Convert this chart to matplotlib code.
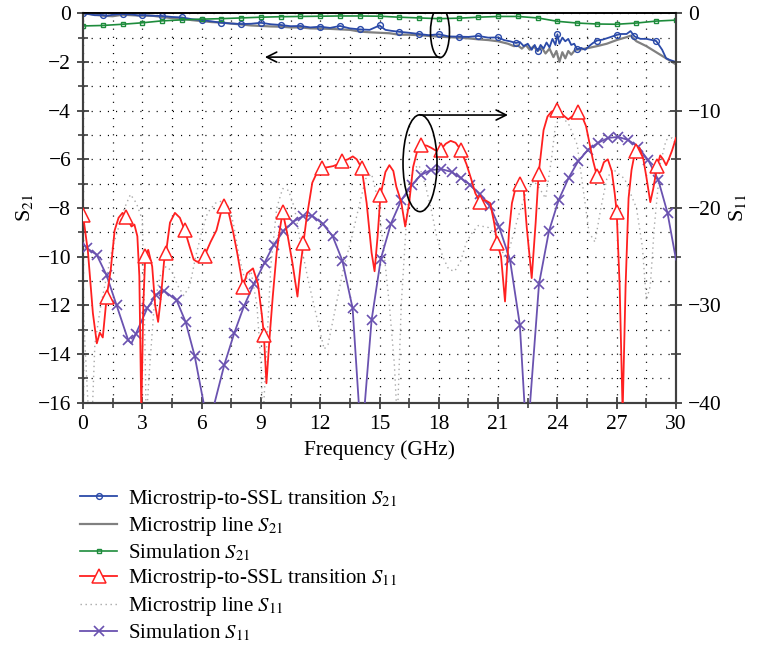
import numpy as np
import matplotlib
matplotlib.use('Agg')
import matplotlib.pyplot as plt
from matplotlib.patches import Ellipse
from matplotlib.ticker import MultipleLocator

plt.rcParams['font.family'] = ['Liberation Serif', 'DejaVu Serif']
plt.rcParams['mathtext.fontset'] = 'stix'

# ---- S21 (left axis, dB) ----
sim21_f = list(range(0, 31))
sim21 = [-0.52, -0.50, -0.45, -0.39, -0.31, -0.27, -0.24, -0.22, -0.19, -0.16,
         -0.14, -0.13, -0.12, -0.11, -0.11, -0.12, -0.16, -0.19, -0.22, -0.20,
         -0.16, -0.13, -0.13, -0.19, -0.33, -0.40, -0.44, -0.45, -0.40, -0.32, -0.28]

trans21_f = [0.0, 0.3, 0.6, 1.0, 1.2, 1.5, 1.8, 2.0, 2.5, 2.8, 3.0, 3.5, 4.0, 4.5, 5.0,
             5.5, 6.0, 6.5, 7.0, 7.5, 8.0, 8.5, 9.0, 9.5, 10.0, 10.5, 11.0, 11.5, 12.0,
             12.5, 13.0, 13.5, 14.0, 14.5, 15.0, 15.3, 15.6, 16.0, 16.5, 17.0, 17.5,
             18.0, 18.5, 19.0, 19.5, 20.0, 20.5, 21.0, 21.3, 21.6, 21.9, 22.1, 22.3,
             22.5, 22.7, 22.85, 23.0, 23.15, 23.3, 23.45, 23.6, 23.75, 23.9, 24.0,
             24.1, 24.25, 24.4, 24.55, 24.7, 24.85, 25.0, 25.2, 25.4, 25.6, 25.8,
             26.0, 26.3, 26.6, 27.0, 27.2, 27.5, 27.7, 27.9, 28.2, 28.5, 28.8, 29.0,
             29.3, 29.5, 29.7, 30.0]
trans21 = [0.0, -0.03, -0.08, -0.07, -0.1, -0.06, -0.04, -0.03, -0.05, -0.09, -0.07,
           -0.1, -0.11, -0.15, -0.17, -0.24, -0.28, -0.33, -0.39, -0.42, -0.44, -0.43,
           -0.39, -0.45, -0.48, -0.53, -0.52, -0.58, -0.55, -0.6, -0.52, -0.62, -0.66,
           -0.68, -0.50, -0.68, -0.72, -0.76, -0.80, -0.85, -0.90, -0.86, -0.95, -0.96,
           -0.97, -0.93, -1.0, -0.99, -1.10, -1.15, -1.22, -1.18, -1.35, -1.25, -1.5,
           -1.3, -1.55, -1.3, -1.45, -1.2, -1.4, -1.05, -1.3, -0.86, -1.25, -1.0, -1.15,
           -1.05, -1.3, -1.25, -1.48, -1.42, -1.5, -1.35, -1.22, -1.12, -1.08, -1.0,
           -0.89, -0.85, -0.85, -0.73, -0.95, -1.05, -1.05, -1.1, -1.14, -1.5, -1.85,
           -1.92, -2.0]
trans21_marks = list(range(0, 30))

line21_f = [0.0, 0.5, 1.0, 1.5, 2.0, 2.5, 3.0, 3.5, 4.0, 4.5, 5.0, 5.5, 6.0, 6.5, 7.0,
            7.5, 8.0, 8.5, 9.0, 9.5, 10.0, 10.5, 11.0, 11.5, 12.0, 12.5, 13.0, 13.5,
            14.0, 14.5, 15.0, 15.5, 16.0, 16.5, 17.0, 17.5, 18.0, 18.5, 19.0, 19.5,
            20.0, 20.5, 21.0, 21.5, 21.8, 22.0, 22.2, 22.4, 22.6, 22.8, 23.0, 23.2,
            23.4, 23.6, 23.8, 23.95, 24.1, 24.25, 24.4, 24.55, 24.7, 24.9, 25.2, 25.6,
            26.0, 26.5, 27.0, 27.5, 27.7, 28.0, 28.5, 29.0, 29.5, 30.0]
line21 = [0.0, -0.05, -0.1, -0.12, -0.06, -0.08, -0.1, -0.1, -0.15, -0.2, -0.22, -0.28,
          -0.32, -0.36, -0.38, -0.42, -0.46, -0.5, -0.52, -0.54, -0.55, -0.58, -0.58,
          -0.62, -0.63, -0.64, -0.66, -0.68, -0.75, -0.78, -0.8, -0.82, -0.88, -0.88,
          -0.9, -0.93, -0.96, -0.98, -1.0, -1.03, -1.07, -1.1, -1.15, -1.25, -1.35,
          -1.32, -1.45, -1.3, -1.5, -1.35, -1.55, -1.4, -1.65, -1.45, -1.8, -1.55,
          -2.0, -1.6, -1.85, -1.55, -1.7, -1.5, -1.48, -1.42, -1.35, -1.25, -1.1,
          -0.98, -0.92, -1.15, -1.35, -1.6, -1.85, -2.1]

# ---- S11 (right axis, dB) ----
trans11_f = [0.0, 0.25, 0.5, 0.7, 0.85, 1.0, 1.2, 1.4, 1.6, 1.8, 2.0, 2.2, 2.45, 2.6,
             2.75, 2.85, 2.95, 3.05, 3.15, 3.3, 3.5, 3.65, 3.8, 3.95, 4.1, 4.2, 4.4,
             4.65, 4.9, 5.15, 5.4, 5.6, 5.75, 5.9, 6.15, 6.45, 6.75, 7.0, 7.15, 7.35,
             7.6, 7.8, 8.1, 8.3, 8.6, 8.85, 9.05, 9.15, 9.28, 9.45, 9.6, 9.8, 9.95,
             10.1, 10.35, 10.6, 10.85, 11.0, 11.15, 11.3, 11.6, 11.85, 12.1, 12.4,
             12.65, 12.9, 13.1, 13.4, 13.65, 13.85, 14.1, 14.35, 14.6, 14.75, 14.9,
             15.05, 15.3, 15.5, 15.7, 15.85, 16.1, 16.3, 16.5, 16.7, 16.9, 17.1, 17.4,
             17.6, 17.85, 18.1, 18.35, 18.6, 18.85, 19.1, 19.4, 19.65, 19.85, 20.1,
             20.35, 20.6, 20.8, 20.95, 21.15, 21.35, 21.55, 21.7, 21.9, 22.1, 22.3,
             22.45, 22.7, 22.9, 23.05, 23.3, 23.5, 23.7, 24.0, 24.25, 24.55, 24.8,
             25.05, 25.25, 25.45, 25.8, 26.0, 26.2, 26.35, 26.55, 26.75, 26.9, 27.0,
             27.15, 27.3, 27.45, 27.6, 27.75, 27.9, 28.0, 28.15, 28.35, 28.5, 28.7,
             28.85, 29.05, 29.2, 29.35, 29.5, 29.65, 29.8, 30.0]
trans11 = [-20.7, -24.5, -30.8, -33.9, -32.8, -33.3, -29.1, -26.4, -22.3, -21.0, -20.5,
           -20.9, -21.9, -21.7, -22.9, -27.0, -41.0, -30.0, -24.9, -24.3, -26.0, -30.0,
           -31.7, -29.0, -25.5, -24.6, -21.5, -20.5, -21.0, -22.3, -24.0, -25.3, -25.5,
           -25.5, -24.9, -23.5, -22.3, -20.3, -19.8, -20.3, -22.5, -24.6, -28.1, -26.7,
           -26.2, -27.8, -31.0, -33.0, -38.0, -33.0, -29.1, -24.5, -22.3, -20.4, -22.8,
           -25.7, -29.1, -26.0, -23.6, -21.2, -17.4, -16.3, -15.9, -15.8, -15.7, -15.5,
           -15.2, -15.0, -14.7, -15.0, -15.9, -19.5, -24.6, -26.5, -23.0, -18.7, -16.3,
           -15.6, -16.2, -17.8, -19.4, -21.9, -19.5, -15.8, -14.2, -13.5, -13.6, -13.8,
           -14.1, -14.0, -13.4, -13.1, -13.3, -14.0, -15.5, -17.1, -18.5, -19.4, -19.2,
           -19.5, -21.5, -23.6, -25.0, -29.6, -22.5, -19.5, -17.8, -17.5, -18.2, -22.0,
           -27.2, -21.5, -16.5, -12.0, -10.6, -10.1, -9.9, -10.4, -10.9, -10.5, -10.1,
           -10.6, -11.6, -15.1, -16.7, -16.2, -15.3, -15.0, -16.2, -18.5, -20.4, -28.0,
           -41.0, -28.0, -19.0, -16.1, -14.5, -14.1, -13.8, -15.0, -16.8, -19.4, -18.0,
           -15.7, -14.6, -15.0, -15.6, -14.9, -14.1, -12.8]
trans11_marks = [0.0, 1.2, 2.2, 3.15, 4.2, 5.15, 6.15, 7.15, 8.1, 9.15, 10.1, 11.15,
                 12.1, 13.1, 14.1, 15.05, 17.1, 18.1, 19.1, 20.1, 20.95, 22.1, 23.05,
                 24.0, 25.05, 26.0, 27.0, 28.0, 29.05]

line11_f = [0.0, 0.15, 0.3, 0.45, 0.6, 0.9, 1.2, 1.5, 1.8, 2.1, 2.4, 2.7, 3.0, 3.1, 3.2,
            3.35, 3.6, 3.9, 4.2, 4.5, 4.8, 5.1, 5.4, 5.7, 6.0, 6.3, 6.7, 7.0, 7.3, 7.6,
            7.9, 8.2, 8.5, 8.8, 9.0, 9.1, 9.25, 9.5, 9.8, 10.1, 10.4, 10.7, 11.0, 11.4,
            11.8, 12.2, 12.4, 12.8, 13.2, 13.6, 14.0, 14.3, 14.6, 14.9, 15.2, 15.5,
            15.75, 15.9, 16.1, 16.4, 16.7, 17.0, 17.3, 17.6, 17.9, 18.2, 18.5, 18.8,
            19.1, 19.4, 19.7, 20.0, 20.5, 21.0, 21.3, 21.6, 22.0, 22.4, 22.8, 23.1,
            23.4, 23.7, 23.9, 24.2, 24.6, 25.0, 25.3, 25.6, 25.9, 26.2, 26.5, 26.8,
            27.1, 27.4, 27.7, 28.0, 28.3, 28.5, 28.7, 28.9, 29.2, 29.5, 29.8, 30.0]
line11 = [-30, -36, -42, -42, -34, -30, -27, -24, -22, -20, -18.6, -19.5, -21.2, -30,
          -42, -37, -30, -27, -26, -26.5, -28, -29, -28, -25, -22.5, -20.5, -19.5,
          -19.3, -19.6, -21.5, -25, -27.5, -26.5, -30, -36, -42, -36, -26, -20, -18,
          -18.2, -20, -23.5, -27.5, -31, -34.5, -34, -30, -26, -23, -19.5, -17, -16.5,
          -19, -24, -30, -36, -42, -30, -20, -16, -15.6, -17.5, -20, -23, -25, -26.3,
          -26.5, -25.5, -23.5, -22.5, -21.8, -22, -23, -25, -24, -21, -18.5, -17.2,
          -18, -19, -15, -11.5, -10.5, -11.5, -13.5, -18, -22.5, -23.5, -20, -17, -16,
          -16.5, -17, -18.5, -20, -24, -29.5, -28, -22, -15.5, -13, -12.8, -13.5]

sim11_f = [0.0, 0.18, 0.69, 1.19, 1.7, 2.29, 2.45, 2.68, 3.25, 3.71, 4.1, 4.74, 5.19,
           5.65, 6.1, 6.35, 6.66, 7.15, 7.66, 8.14, 8.65, 9.19, 9.64, 10.13, 10.64,
           11.15, 11.6, 12.12, 12.63, 13.12, 13.64, 13.95, 14.1, 14.26, 14.6, 15.07,
           15.58, 16.1, 16.65, 17.1, 17.6, 18.13, 18.65, 19.1, 19.57, 20.07, 20.59,
           21.06, 21.6, 22.1, 22.33, 22.48, 22.62, 23.07, 23.57, 24.06, 24.57, 25.05,
           25.56, 26.06, 26.57, 27.07, 27.57, 28.07, 28.6, 29.1, 29.57, 30.0]
sim11 = [-23.6, -24.1, -24.8, -26.9, -30.0, -33.6, -33.9, -32.9, -30.3, -28.9, -28.5,
         -29.5, -31.7, -35.2, -40.0, -44.0, -40.0, -36.1, -32.8, -30.1, -27.8, -25.6,
         -23.8, -22.4, -21.4, -20.8, -20.8, -21.6, -22.9, -25.4, -30.3, -40.0, -46.0,
         -40.0, -31.5, -25.2, -21.6, -19.2, -17.6, -16.6, -16.1, -16.0, -16.3, -16.9,
         -17.6, -18.6, -19.8, -22.0, -25.3, -32.0, -40.0, -46.0, -40.0, -27.8, -22.4,
         -19.2, -16.9, -15.2, -14.0, -13.3, -12.8, -12.7, -13.0, -13.7, -15.1, -17.1,
         -20.5, -25.3]
sim11_nomark = [0.0, 2.45, 6.1, 6.35, 6.66, 13.95, 14.1, 14.26, 22.33, 22.48, 22.62, 30.0]

labels = ['Microstrip-to-SSL transition $S_{21}$', 'Microstrip line $S_{21}$',
          'Simulation $S_{21}$', 'Microstrip-to-SSL transition $S_{11}$',
          'Microstrip line $S_{11}$', 'Simulation $S_{11}$']


def mark_idx(freqs, marks):
    freqs = np.asarray(freqs)
    return [int(np.argmin(np.abs(freqs - m))) for m in marks]


fig = plt.figure(figsize=(7.59, 6.46), dpi=100)
ax = fig.add_axes([83 / 759, 1 - 402.7 / 646, (676 - 83) / 759, (402.7 - 13.3) / 646])
ax2 = ax.twinx()

blue = '#2b4aa8'
l1, = ax.plot(trans21_f, trans21, color=blue, lw=1.3, marker='o', ms=4.2, mfc='none',
              mew=1.0, markevery=mark_idx(trans21_f, trans21_marks), zorder=4)
l2, = ax.plot(line21_f, line21, color='#808080', lw=1.6, zorder=3)
l3, = ax.plot(sim21_f, sim21, color='#1e8c3c', lw=1.2, marker='s', ms=3.2, mfc='none',
              mew=1.0, zorder=5)

l5, = ax2.plot(line11_f, line11, color='#a8a8a8', lw=1.0, ls=(0, (1, 2.6)), zorder=2)
l6, = ax2.plot(sim11_f, sim11, color='#6a52b0', lw=1.3, marker='x', ms=6.5, mew=1.2,
               markevery=[i for i, f in enumerate(sim11_f) if f not in sim11_nomark],
               zorder=3)
l4, = ax2.plot(trans11_f, trans11, color='#ff2020', lw=1.3, marker='^', ms=9.5,
               mfc='white', mew=1.1, markevery=mark_idx(trans11_f, trans11_marks),
               zorder=4)

ax.set_xlim(0, 30)
ax.set_ylim(-16, 0)
ax2.set_ylim(-40, 0)
ax.xaxis.set_major_locator(MultipleLocator(3))
ax.xaxis.set_minor_locator(MultipleLocator(1.5))
ax.yaxis.set_major_locator(MultipleLocator(2))
ax.yaxis.set_minor_locator(MultipleLocator(1))
ax2.yaxis.set_major_locator(MultipleLocator(10))
ax2.yaxis.set_minor_locator(MultipleLocator(5))

ax.grid(True, which='both', color='black', lw=0.9, ls=(0, (0.9, 5.6)))
ax.set_axisbelow(True)

spc = '#404040'
for a in (ax, ax2):
    for s in a.spines.values():
        s.set_color(spc)
        s.set_linewidth(1.5)
    a.spines['top'].set_color('black')
    a.spines['top'].set_linewidth(1.2)
ax.tick_params(which='major', direction='inout', length=9, width=1.3, color=spc,
               labelsize=15.5, pad=4)
ax.tick_params(which='minor', direction='inout', length=7, width=1.2, color=spc)
ax.tick_params(top=False, which='both')
ax2.tick_params(which='major', direction='inout', length=9, width=1.3, color=spc,
                labelsize=15.5, pad=4)
ax2.tick_params(which='minor', direction='inout', length=7, width=1.2, color=spc)

ax.set_xlabel('Frequency (GHz)', fontsize=15.5, labelpad=5)
ax.set_ylabel('S$_{21}$', fontsize=16, labelpad=2)
ax2.set_ylabel('S$_{11}$', fontsize=16, labelpad=4)

# callouts
ax2.add_patch(Ellipse((18.06, -1.93), 0.96, 5.25, fill=False, ec='black', lw=1.2, zorder=6))
ax2.annotate('', xy=(9.2, -4.5), xytext=(18.06, -4.5),
             arrowprops=dict(arrowstyle='->', lw=1.2, color='black', shrinkA=0,
                             shrinkB=0, mutation_scale=18), zorder=6)
ax2.add_patch(Ellipse((17.05, -15.4), 1.72, 9.95, fill=False, ec='black', lw=1.2, zorder=6))
ax2.annotate('', xy=(21.5, -10.45), xytext=(17.05, -10.45),
             arrowprops=dict(arrowstyle='->', lw=1.2, color='black', shrinkA=0,
                             shrinkB=0, mutation_scale=18), zorder=6)

fig.legend([l1, l2, l3, l4, l5, l6], labels, loc='upper left',
           bbox_to_anchor=(0.095, 0.258), frameon=False, fontsize=15,
           handlelength=1.75, handletextpad=0.55, labelspacing=0.21, borderaxespad=0)

fig.savefig('out.png', dpi=100)
